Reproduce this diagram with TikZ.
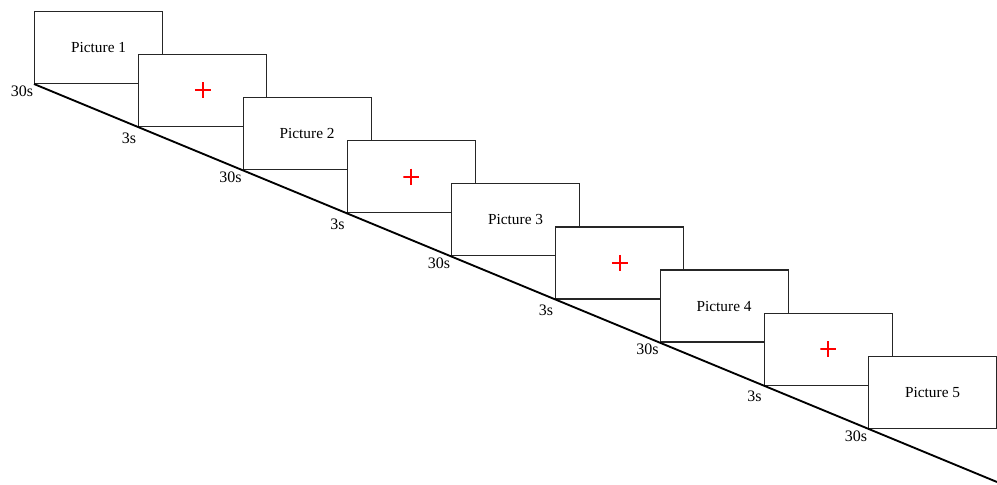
\documentclass[tikz,border=0pt]{standalone}
\usepackage{fontspec}
\setmainfont{Liberation Serif}
\usetikzlibrary{positioning}
\tikzstyle{every node}+=[inner sep=0.5mm]
\tikzstyle{slide}=[draw=black!85,fill=white,line width=0.9pt,minimum width=96pt,minimum height=54pt,anchor=south west,font=\fontsize{11.5}{13}\selectfont]
\tikzstyle{longtime}=[anchor=north east,inner sep=0pt,xshift=-0.5pt,yshift=-1pt,font=\fontsize{12}{14}\selectfont]
\tikzstyle{shorttime}=[anchor=north east,inner sep=0pt,xshift=-1.5pt,yshift=-4pt,font=\fontsize{12}{14}\selectfont]
% a plain red plus as the fixation mark
\tikzstyle{fixcross}=[inner sep=0pt,minimum size=12pt,
    path picture={\draw[red,line width=1.5pt]
        (path picture bounding box.west) -- (path picture bounding box.east)
        (path picture bounding box.north) -- (path picture bounding box.south);}]

\begin{document}
\begin{tikzpicture}[x=0.75pt,y=-0.75pt]
    \useasboundingbox (0,0) rectangle (997,485);
    \newcommand{\stepx}{104.25}
    \newcommand{\stepy}{43.1}

    % slides, one after the other, each lying over the last
    \foreach \i in {0,...,8} {
        \pgfmathtruncatemacro{\n}{\i/2+1}
        \ifodd\i
            \node[slide,label={[shorttime]south west:3s}] (s\i) at ({34+\i*\stepx},{84+\i*\stepy}) {};
            \node[fixcross] (c\i) at (s\i.center) {};
        \else
            \node[slide,label={[longtime]south west:30s}] (s\i) at ({34+\i*\stepx},{84+\i*\stepy}) {Picture \n};
        \fi
    }

    % time line through the lower left corners
    \coordinate (end) at (997,482);
    \draw[line width=1.4pt] (s0.south west) -- (end);
\end{tikzpicture}
\end{document}
